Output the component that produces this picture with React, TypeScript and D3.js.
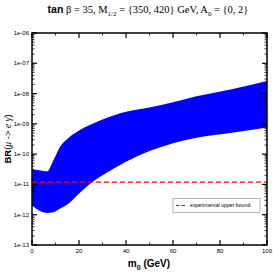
import React from "react";
import * as d3 from "d3";

// m0 grid (GeV) and band edges of BR(mu -> e gamma)
const m0 = [0, 3, 6.5, 9, 12, 16, 20, 25, 30, 40, 50, 60, 70, 85, 100];
const brUpper = [3.16e-11, 2.95e-11, 2.7e-11, 6.0e-11, 1.78e-10, 3.7e-10, 6.0e-10, 9.5e-10, 1.4e-9, 2.5e-9, 3.5e-9, 5.2e-9, 8.1e-9, 1.4e-8, 2.6e-8];
const brLower = [2.0e-12, 1.38e-12, 1.15e-12, 1.2e-12, 1.6e-12, 2.5e-12, 5.0e-12, 1.1e-11, 2.0e-11, 5.6e-11, 1.26e-10, 2.3e-10, 3.5e-10, 5.1e-10, 7.6e-10];
const expBound = 1.2e-11;
const yTicks = [1e-6, 1e-7, 1e-8, 1e-9, 1e-10, 1e-11, 1e-12, 1e-13];
const yTickLabels = ["1e-06", "1e-07", "1e-08", "1e-09", "1e-10", "1e-11", "1e-12", "1e-13"];
const xTicks = [0, 20, 40, 60, 80, 100];
const xMinor = [10, 30, 50, 70, 90];

const W = 273, H = 273;
const L = 32, R = 267, T = 33, B = 245;
const sans = "'Liberation Sans', Arial, sans-serif";
const serif = "'Liberation Serif', 'Times New Roman', serif";

export default function App() {
    const x = d3.scaleLinear().domain([0, 100]).range([L, R]);
    const y = d3.scaleLog().domain([1e-13, 1e-6]).range([B, T]);

    const band = d3.area<number>()
        .x((d, i) => x(m0[i]))
        .y0((d, i) => y(brLower[i]))
        .y1((d, i) => y(brUpper[i]))
        .curve(d3.curveMonotoneX);

    // minor log ticks 2..9 within each decade
    const minorY: number[] = [];
    for (let e = -13; e < -6; e++) {
        for (let k = 2; k <= 9; k++) minorY.push(k * Math.pow(10, e));
    }

    return (
        <svg width={W} height={H} style={{ position: "absolute", left: 0, top: 0, background: "#fff" }}>
            {/* title */}
            <text x={148} y={13} textAnchor="middle" fontFamily={serif} fontSize={10.5}>
                <tspan fontFamily={sans} fontWeight="bold">tan</tspan>
                <tspan> β = 35, M</tspan>
                <tspan fontSize={7} dy={2.5}>1/2</tspan>
                <tspan dy={-2.5}> = {"{"}350, 420{"}"} GeV, A</tspan>
                <tspan fontSize={7} dy={2.5}>0</tspan>
                <tspan dy={-2.5}> = {"{"}0, 2{"}"}</tspan>
            </text>

            <clipPath id="plotClip">
                <rect x={L} y={T} width={R - L} height={B - T} />
            </clipPath>
            <path d={band(m0) || ""} fill="#0000ff" clipPath="url(#plotClip)" />

            <line x1={L} x2={R} y1={y(expBound)} y2={y(expBound)}
                stroke="#ff0000" strokeWidth={1.3} strokeDasharray="5,3" />

            {/* frame */}
            <rect x={L} y={T} width={R - L} height={B - T} fill="none" stroke="#000" strokeWidth={1.5} />

            {/* y ticks, both sides */}
            {yTicks.map((t, i) => (
                <g key={"yt" + i}>
                    <line x1={L} x2={L + 5} y1={y(t)} y2={y(t)} stroke="#000" strokeWidth={1.2} />
                    <line x1={R} x2={R - 5} y1={y(t)} y2={y(t)} stroke="#000" strokeWidth={1.2} />
                    <text x={L - 3} y={y(t) + 2} textAnchor="end" fontFamily={sans} fontSize={6}>
                        {yTickLabels[i]}
                    </text>
                </g>
            ))}
            {minorY.map((t, i) => (
                <g key={"ym" + i}>
                    <line x1={L} x2={L + 2.5} y1={y(t)} y2={y(t)} stroke="#000" strokeWidth={0.8} />
                    <line x1={R} x2={R - 2.5} y1={y(t)} y2={y(t)} stroke="#000" strokeWidth={0.8} />
                </g>
            ))}

            {/* x ticks, bottom and top */}
            {xTicks.map((t) => (
                <g key={"xt" + t}>
                    <line x1={x(t)} x2={x(t)} y1={B} y2={B - 5} stroke="#000" strokeWidth={1.2} />
                    <line x1={x(t)} x2={x(t)} y1={T} y2={T + 5} stroke="#000" strokeWidth={1.2} />
                    <text x={x(t)} y={253} textAnchor="middle" fontFamily={sans} fontSize={6}>{t}</text>
                </g>
            ))}
            {xMinor.map((t) => (
                <g key={"xm" + t}>
                    <line x1={x(t)} x2={x(t)} y1={B} y2={B - 2.5} stroke="#000" strokeWidth={0.8} />
                    <line x1={x(t)} x2={x(t)} y1={T} y2={T + 2.5} stroke="#000" strokeWidth={0.8} />
                </g>
            ))}

            {/* axis labels */}
            <text x={149} y={267} textAnchor="middle" fontFamily={sans} fontWeight="bold" fontSize={10}>
                m<tspan fontSize={7} dy={2.5}>0</tspan><tspan dy={-2.5}> (GeV)</tspan>
            </text>
            <text transform={`translate(11,139) rotate(-90)`} textAnchor="middle" fontFamily={sans} fontSize={9.5}>
                <tspan fontWeight="bold">BR</tspan>
                <tspan>(</tspan>
                <tspan fontFamily={serif} fontStyle="italic">μ</tspan>
                <tspan> -&gt; </tspan>
                <tspan fontFamily={serif} fontStyle="italic">e γ</tspan>
                <tspan>)</tspan>
            </text>

            {/* legend */}
            <rect x={173} y={198.5} width={87} height={14} fill="#fff" stroke="#999" strokeWidth={0.7} />
            <line x1={176} x2={187} y1={205.5} y2={205.5} stroke="#ff0000" strokeWidth={1} strokeDasharray="3.5,2" />
            <text x={190} y={207.3} fontFamily={sans} fontSize={5.2}>experimental upper bound</text>
        </svg>
    );
}
